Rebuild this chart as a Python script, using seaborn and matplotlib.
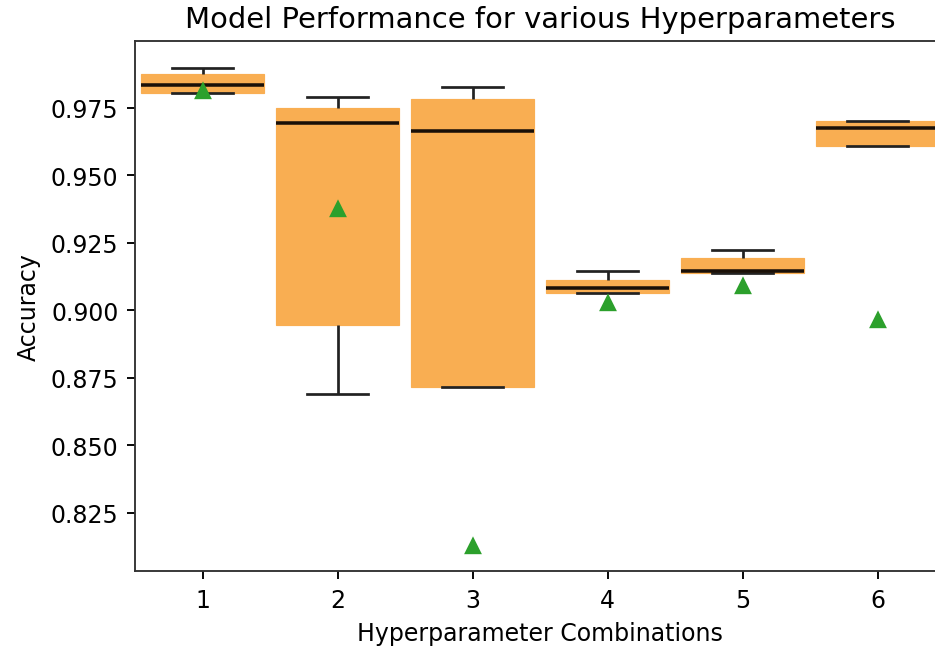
import matplotlib
matplotlib.use("Agg")
import matplotlib.pyplot as plt
import seaborn as sns
import pandas as pd

# Cross-validation accuracy of each hyperparameter combination (5 folds each)
combinations = [1, 2, 3, 4, 5, 6]
combo_1 = [0.9644, 0.9806, 0.9836, 0.9876, 0.9898]
combo_2 = [0.8691, 0.8947, 0.9693, 0.9749, 0.9790]
combo_3 = [0.2648, 0.8716, 0.9666, 0.9783, 0.9827]
combo_4 = [0.8733, 0.9065, 0.9083, 0.9113, 0.9146]
combo_5 = [0.8755, 0.9137, 0.9145, 0.9193, 0.9225]
combo_6 = [0.6136, 0.9608, 0.9675, 0.9703, 0.9703]
fold_scores = [combo_1, combo_2, combo_3, combo_4, combo_5, combo_6]

y_ticks = [0.825, 0.850, 0.875, 0.900, 0.925, 0.950, 0.975]

rows = [
    {"combination": c, "accuracy": acc}
    for c, scores in zip(combinations, fold_scores)
    for acc in scores
]
df = pd.DataFrame(rows)

box_color = "#F9AE52"
mean_color = "#2ca02c"

fig = plt.figure(figsize=(5.5, 3.847), dpi=170)
ax = fig.add_axes([0.1444, 0.1254, 0.8663, 0.8104])

sns.boxplot(
    data=df,
    x="combination",
    y="accuracy",
    order=combinations,
    color=box_color,
    saturation=1,
    width=0.91,
    showfliers=False,
    showmeans=True,
    ax=ax,
    boxprops=dict(facecolor=box_color, edgecolor=box_color, linewidth=0.5),
    medianprops=dict(color="#1a1008", linewidth=1.5),
    whiskerprops=dict(color="#222222", linewidth=1.15),
    capprops=dict(color="#222222", linewidth=1.15),
    meanprops=dict(marker="^", markerfacecolor=mean_color,
                   markeredgecolor=mean_color, markersize=6),
)

ax.set_xlim(-0.5, 5.5)
ax.set_ylim(0.8035, 0.9998)
ax.set_yticks(y_ticks)
ax.set_yticklabels([f"{t:.3f}" for t in y_ticks])
ax.set_xticks(range(len(combinations)))
ax.set_xticklabels([str(c) for c in combinations])
for side in ["top", "right", "left", "bottom"]:
    ax.spines[side].set_visible(True)
    ax.spines[side].set_color("#333333")

ax.set_title("Model Performance for various Hyperparameters", fontsize=12.3)
ax.set_xlabel("Hyperparameter Combinations", fontsize=10)
ax.set_ylabel("Accuracy", fontsize=10)

fig.savefig("out.png", dpi=170)
